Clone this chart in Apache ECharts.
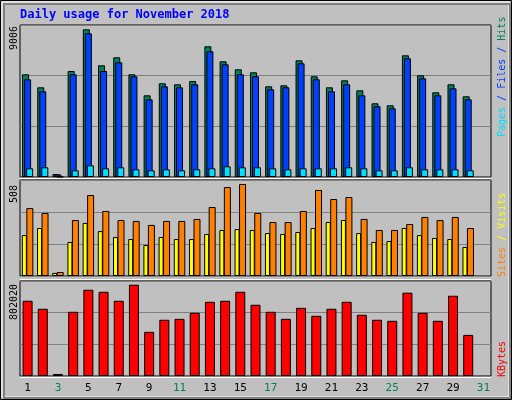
<!DOCTYPE html>
<html>
<head>
<meta charset="utf-8">
<script src="https://cdn.jsdelivr.net/npm/echarts@6/dist/echarts.min.js"></script>
<style>
  html, body { margin: 0; padding: 0; background: #fff; }
  #main { width: 512px; height: 400px; }
</style>
</head>
<body>
<div id="main"></div>
<script>
// 日期与数据
var days = ['1','2','3','4','5','6','7','8','9','10','11','12','13','14','15','16','17','18','19','20','21','22','23','24','25','26','27','28','29','30','31'];
var weekendDays = ['3','4','10','11','17','18','24','25','31'];
var hits = [6262,5469,183,6463,9006,6810,7298,6262,4981,5713,5652,5853,7969,7054,6567,6384,5530,5591,7115,6140,5469,5896,5286,4494,4372,7420,6201,5164,5652,4920,null];
var files = [5957,5225,150,6262,8761,6463,6993,6140,4737,5530,5469,5652,7664,6871,6262,6140,5347,5469,6932,5957,5225,5652,4981,4311,4189,7237,6018,4981,5408,4737,null];
var pages = [530,591,20,408,713,530,591,469,408,469,408,469,530,652,591,591,530,469,530,530,530,591,530,408,408,591,469,469,469,408,null];
var sites = [226,265,17,188,293,248,215,204,171,215,204,204,232,254,259,254,237,232,243,265,298,309,237,188,193,265,226,210,204,160,null];
var visits = [375,348,22,309,447,359,309,304,282,304,304,315,381,491,508,348,298,298,359,475,425,436,315,254,254,287,326,309,326,265,null];
var kbytes = [661000,590500,17600,564000,758000,740000,661000,802020,388000,494000,502000,555000,652000,661000,740000,626000,564000,502000,599000,529000,590500,652000,538000,494000,485000,732000,555000,485000,705000,361000,null];

var MONO = 'DejaVu Sans Mono';
var myChart = echarts.init(document.getElementById('main'));

function grid(top, height) {
  return {left: 20, width: 471, top: top, height: height, show: true,
    backgroundColor: '#C0C0C0', borderColor: '#000', borderWidth: 1};
}
function xAx(i, showLabel) {
  return {type: 'category', gridIndex: i, data: days,
    axisLine: {show: false}, axisTick: {show: false},
    axisLabel: {show: showLabel, fontFamily: MONO, fontSize: 11, margin: 7,
      color: function (v) { return weekendDays.indexOf(v) >= 0 ? '#00805C' : '#000'; }}};
}
function yAx(i, max) {
  return {type: 'value', gridIndex: i, min: 0, max: max, interval: max / 3,
    axisLabel: {show: false}, axisLine: {show: false}, axisTick: {show: false},
    splitLine: {lineStyle: {color: '#808080', width: 1}}};
}
function bar(name, i, data, color, width, gap) {
  return {name: name, type: 'bar', xAxisIndex: i, yAxisIndex: i, data: data,
    barWidth: width, barGap: gap, animation: false,
    itemStyle: {color: color, borderColor: '#000', borderWidth: 1}};
}
function vtext(x, y, rich, text, align) {
  return {type: 'text', x: x, y: y, rotation: Math.PI / 2,
    style: {text: text, rich: rich, font: '10px ' + MONO, fill: '#000',
      align: align || 'left', verticalAlign: 'middle'}};
}

var option = {
  backgroundColor: '#C0C0C0',
  grid: [grid(25, 152), grid(180, 96), grid(281, 95)],
  xAxis: [xAx(0, false), xAx(1, false), xAx(2, true)],
  yAxis: [yAx(0, 9268), yAx(1, 530), yAx(2, 834600)],
  series: [
    bar('Hits', 0, hits, '#00805C', 7, '-71%'),
    bar('Files', 0, files, '#0040FF', 7, '-71%'),
    bar('Pages', 0, pages, '#00E0FF', 7, '-71%'),
    bar('Sites', 1, sites, '#FFFF00', 5, '-10%'),
    bar('Visits', 1, visits, '#FF8000', 7, '-10%'),
    bar('KBytes', 2, kbytes, '#FF0000', 10, '0%')
  ],
  graphic: [
    {type: 'rect', shape: {x: 0.5, y: 0.5, width: 511, height: 399}, style: {fill: 'none', stroke: '#000'}},
    {type: 'rect', shape: {x: 2, y: 2, width: 507, height: 395}, style: {fill: 'none', stroke: '#fff', lineWidth: 1}},
    {type: 'rect', shape: {x: 4, y: 4, width: 506, height: 394}, style: {fill: 'none', stroke: '#808080', lineWidth: 2}},
    {type: 'text', x: 20, y: 9, style: {text: 'Daily usage for November 2018', font: 'bold 12px ' + MONO, fill: '#0000FF'}},
    {type: 'line', shape: {x1: 20, y1: 178.5, x2: 491, y2: 178.5}, style: {stroke: '#fff'}},
    {type: 'line', shape: {x1: 20, y1: 279.5, x2: 491, y2: 279.5}, style: {stroke: '#fff'}},
    {type: 'line', shape: {x1: 20, y1: 377.5, x2: 491, y2: 377.5}, style: {stroke: '#fff'}},
    vtext(14, 50, null, '9006'),
    vtext(14, 203, null, '508'),
    vtext(14, 320, null, '802020'),
    vtext(502, 137, {p: {fill: '#00E0FF'}, f: {fill: '#0040FF'}, h: {fill: '#00805C'}},
      '{p|Pages}{f| / Files /}{h| Hits}'),
    vtext(502, 277, {s: {fill: '#FF8000'}, v: {fill: '#FFFF00'}},
      '{s|Sites}{v| / Visits}'),
    vtext(502, 377, {k: {fill: '#FF0000'}}, '{k|KBytes}')
  ]
};
myChart.setOption(option);
</script>
</body>
</html>
